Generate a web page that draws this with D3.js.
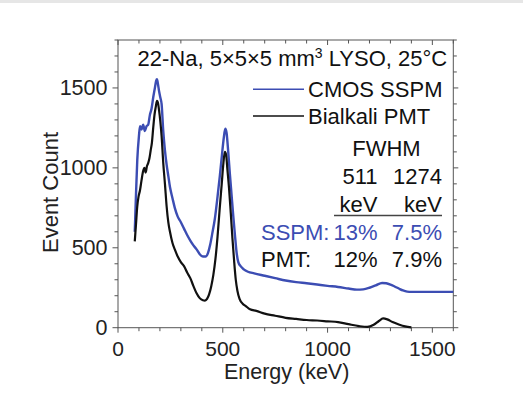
<!DOCTYPE html>
<html>
<head>
<meta charset="utf-8">
<script src="https://cdn.jsdelivr.net/npm/d3@7"></script>
<style>
  body { margin: 0; background: #fff; }
  text { font-family: "Liberation Sans", Arial, sans-serif; }
</style>
</head>
<body>
<div id="chart"></div>
<script>
// Spectra (energy in keV, event counts)
const sspmEnergy = [80, 85, 92, 100, 105, 112, 120, 128, 136, 144, 152, 160, 168, 176, 182, 186, 190, 196, 202, 208,
  216, 224, 232, 240, 248, 260, 271, 285, 300, 315, 330, 345, 360, 375, 390, 405, 418, 430, 440, 450,
  462, 475, 486, 496, 505, 512, 518, 526, 534, 542, 550, 558, 566, 574, 585, 600, 620, 650, 700, 750,
  800, 850, 900, 950, 1000, 1050, 1100, 1140, 1170, 1200, 1230, 1260, 1280, 1300, 1320, 1340, 1360, 1380, 1400, 1500, 1600];
const sspmCounts = [600, 800, 1050, 1200, 1260, 1240, 1270, 1230, 1260, 1270, 1330, 1370, 1440, 1500, 1545, 1555, 1530, 1480, 1440, 1400,
  1230, 1110, 1020, 950, 880, 810, 750, 695, 660, 620, 580, 545, 515, 490, 460, 445, 445, 470, 520, 590,
  680, 820, 950, 1080, 1190, 1245, 1220, 1100, 960, 830, 700, 580, 470, 410, 385, 365, 350, 340, 325, 310,
  295, 285, 278, 270, 262, 255, 245, 238, 240, 250, 265, 280, 278, 270, 258, 245, 233, 226, 224, 224, 224];

const pmtEnergy = [80, 86, 92, 98, 105, 112, 120, 126, 132, 138, 144, 150, 156, 162, 168, 174, 180, 186, 190, 196,
  202, 208, 216, 224, 232, 240, 248, 260, 271, 285, 300, 315, 330, 345, 360, 375, 390, 405, 415, 425,
  435, 445, 455, 465, 475, 485, 495, 503, 510, 516, 522, 530, 538, 546, 554, 562, 570, 580, 595, 610,
  630, 660, 700, 750, 800, 850, 900, 950, 1000, 1050, 1100, 1150, 1190, 1220, 1245, 1265, 1285, 1310, 1340, 1370, 1400];
const pmtCounts = [540, 650, 760, 820, 860, 920, 980, 1000, 970, 1010, 1030, 1060, 1110, 1160, 1250, 1330, 1380, 1420, 1410, 1360,
  1290, 1200, 1030, 900, 760, 660, 600, 530, 490, 445, 410, 385, 345, 310, 260, 215, 185, 172, 170, 180,
  210, 260, 330, 430, 570, 740, 900, 1030, 1100, 1080, 990, 870, 720, 560, 420, 300, 230, 180, 150, 135,
  115, 105, 88, 75, 62, 55, 48, 45, 40, 35, 22, 10, 5, 18, 42, 58, 52, 35, 20, 8, 2];

const xTicks = [0, 500, 1000, 1500];
const yTicks = [0, 500, 1000, 1500];
const seriesNames = ["CMOS SSPM", "Bialkali PMT"];
const fwhmHeader = ["511", "1274"];
const fwhmSspm = ["13%", "7.5%"];
const fwhmPmt = ["12%", "7.9%"];

const W = 523, H = 398;
const blue = "#3c4db3";
const axisColor = "#555";
const fs = 22;

const svg = d3.select("#chart").append("svg")
  .attr("width", W).attr("height", H);

svg.append("rect").attr("x", 0).attr("y", 0).attr("width", W).attr("height", 3).attr("fill", "#e6e6e6");

const x = d3.scaleLinear().domain([0, 1600]).range([118, 453.3]);
const y = d3.scaleLinear().domain([0, 1800]).range([327.7, 40]);

const minorX = d3.range(0, 1601, 100);
const minorY = d3.range(0, 1801, 100);

// frame
svg.append("rect")
  .attr("x", x(0)).attr("y", y(1800))
  .attr("width", x(1600) - x(0)).attr("height", y(0) - y(1800))
  .attr("fill", "none").attr("stroke", axisColor).attr("stroke-width", 1);

// bottom ticks (outward)
svg.append("g").selectAll("line").data(minorX).join("line")
  .attr("x1", d => x(d)).attr("x2", d => x(d))
  .attr("y1", y(0)).attr("y2", d => y(0) + (d % 500 === 0 ? 5 : 3.5))
  .attr("stroke", axisColor);
// top ticks (inward)
svg.append("g").selectAll("line").data(minorX).join("line")
  .attr("x1", d => x(d)).attr("x2", d => x(d))
  .attr("y1", y(1800)).attr("y2", d => y(1800) + (d % 500 === 0 ? 5 : 3.5))
  .attr("stroke", axisColor);
// left ticks (outward)
svg.append("g").selectAll("line").data(minorY).join("line")
  .attr("y1", d => y(d)).attr("y2", d => y(d))
  .attr("x1", x(0)).attr("x2", d => x(0) - (d % 500 === 0 ? 5.5 : 3.5))
  .attr("stroke", axisColor);
// right ticks (outward)
svg.append("g").selectAll("line").data(minorY).join("line")
  .attr("y1", d => y(d)).attr("y2", d => y(d))
  .attr("x1", x(1600)).attr("x2", d => x(1600) + (d % 500 === 0 ? 5 : 3.5))
  .attr("stroke", axisColor);

// tick labels
svg.append("g").selectAll("text").data(xTicks).join("text")
  .attr("x", d => x(d)).attr("y", 355.5)
  .attr("text-anchor", "middle").attr("font-size", 21).attr("fill", "#222")
  .text(d => d);
svg.append("g").selectAll("text").data(yTicks).join("text")
  .attr("x", 107.5).attr("y", d => y(d) + 7.5)
  .attr("text-anchor", "end").attr("font-size", 21.5).attr("fill", "#222")
  .text(d => d);

// axis titles
svg.append("text")
  .attr("x", x(800) + 1).attr("y", 378.5)
  .attr("text-anchor", "middle").attr("font-size", 21.5).attr("fill", "#222")
  .text("Energy (keV)");
svg.append("text")
  .attr("transform", "translate(58,192.5) rotate(-90)")
  .attr("text-anchor", "middle").attr("font-size", fs).attr("fill", "#222")
  .text("Event Count");

// spectra
const line = d3.line()
  .x(d => x(d[0])).y(d => y(d[1]))
  .curve(d3.curveMonotoneX);

const plot = svg.append("g");
plot.append("path")
  .datum(d3.zip(sspmEnergy, sspmCounts))
  .attr("d", line).attr("fill", "none")
  .attr("stroke", blue).attr("stroke-width", 2.4).attr("stroke-linejoin", "round");
plot.append("path")
  .datum(d3.zip(pmtEnergy, pmtCounts))
  .attr("d", line).attr("fill", "none")
  .attr("stroke", "#111").attr("stroke-width", 2.2).attr("stroke-linejoin", "round");

// title
const title = svg.append("text")
  .attr("x", 137.5).attr("y", 66)
  .attr("font-size", fs).attr("fill", "#111");
title.append("tspan").text("22-Na, 5×5×5 mm");
title.append("tspan").attr("dy", -8).attr("font-size", 14).text("3");
title.append("tspan").attr("dy", 8).text(" LYSO, 25°C");

// legend
const legendColors = [blue, "#111"];
const legend = svg.append("g").selectAll("g").data(seriesNames).join("g")
  .attr("transform", (d, i) => `translate(0,${89.3 + i * 26.7})`);
legend.append("line")
  .attr("x1", 253).attr("x2", 304).attr("y1", 0).attr("y2", 0)
  .attr("stroke", (d, i) => legendColors[i]).attr("stroke-width", 1.6);
legend.append("text")
  .attr("x", 308).attr("y", 7.5)
  .attr("font-size", fs).attr("fill", "#111")
  .text(d => d);

// FWHM table
const col1 = 377.5, col2 = 442;
svg.append("text").attr("x", 386.5).attr("y", 156).attr("text-anchor", "middle")
  .attr("font-size", fs).attr("fill", "#111").text("FWHM");
[col1, col2].forEach((cx, i) => {
  svg.append("text").attr("x", cx).attr("y", 184).attr("text-anchor", "end")
    .attr("font-size", fs).attr("fill", "#111").text(fwhmHeader[i]);
  svg.append("text").attr("x", cx).attr("y", 211.5).attr("text-anchor", "end")
    .attr("font-size", fs).attr("fill", "#111").text("keV");
  svg.append("text").attr("x", cx).attr("y", 239.5).attr("text-anchor", "end")
    .attr("font-size", fs).attr("fill", blue).text(fwhmSspm[i]);
  svg.append("text").attr("x", cx).attr("y", 267).attr("text-anchor", "end")
    .attr("font-size", fs).attr("fill", "#111").text(fwhmPmt[i]);
});
svg.append("line").attr("x1", 334).attr("x2", 442).attr("y1", 215.5).attr("y2", 215.5)
  .attr("stroke", "#444").attr("stroke-width", 1.6);
svg.append("text").attr("x", 261).attr("y", 239.5)
  .attr("font-size", fs).attr("fill", blue).text("SSPM:");
svg.append("text").attr("x", 261).attr("y", 267)
  .attr("font-size", fs).attr("fill", "#111").text("PMT:");
</script>
</body>
</html>
